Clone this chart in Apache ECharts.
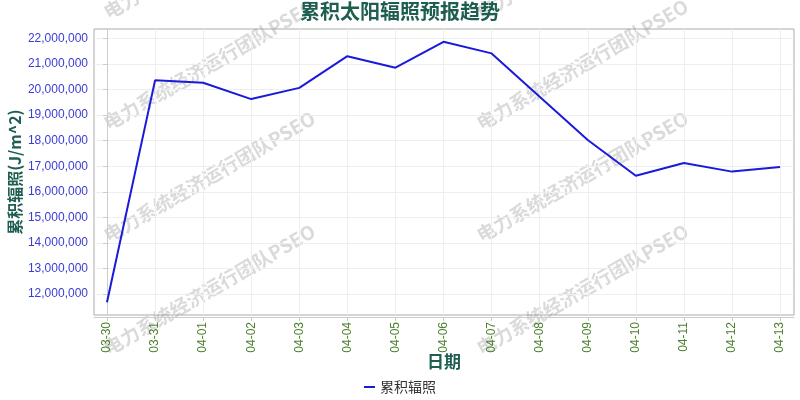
<!DOCTYPE html>
<html><head><meta charset="utf-8">
<script src="https://cdn.jsdelivr.net/npm/echarts@6/dist/echarts.min.js"></script>
<style>html,body{margin:0;padding:0;background:#fff}#c{width:800px;height:400px}</style>
</head><body><div id="c"></div>
<script>
const categories = ['03-30','03-31','04-01','04-02','04-03','04-04','04-05','04-06','04-07','04-08','04-09','04-10','04-11','04-12','04-13'];
const values = [11675000, 20364000, 20270000, 19630000, 20070000, 21310000, 20860000, 21875000, 21420000, 19720000, 18030000, 16630000, 17130000, 16790000, 16970000];
const yTicks = [12000000, 13000000, 14000000, 15000000, 16000000, 17000000, 18000000, 19000000, 20000000, 21000000, 22000000];
const seriesName = '累积辐照';
const titleText = '累积太阳辐照预报趋势';
const watermarkText = '电力系统经济运行团队PSEO';

const cjk = '"Noto Sans CJK SC", sans-serif';
const wmPos = [[110,22],[110,133],[110,245],[110,358],[483,22],[483,133],[483,245],[483,358]];
const graphics = wmPos.map(p => ({
  type: 'text', x: p[0], y: p[1], rotation: Math.PI / 6, z: 0, silent: true,
  style: { text: watermarkText, fill: 'rgba(140,140,140,0.32)', font: 'bold 19px ' + cjk,
           align: 'left', verticalAlign: 'bottom' }
}));
const xIdx = categories.map((c, i) => i);

const chart = echarts.init(document.getElementById('c'));
chart.setOption({
  animation: false,
  backgroundColor: '#fff',
  title: { text: titleText, left: 'center', top: -4,
    textStyle: { fontFamily: cjk, fontSize: 20, fontWeight: 'bold', color: '#1e5e50' } },
  graphic: graphics,
  legend: { bottom: 1, left: 'center', icon: 'rect', itemWidth: 11, itemHeight: 2, itemGap: 4,
    textStyle: { fontFamily: cjk, fontSize: 14, color: '#333' }, data: [seriesName] },
  grid: { left: 94, right: 6, top: 29, bottom: 85, show: true, borderColor: '#aaa', borderWidth: 1,
    containLabel: false, outerBoundsMode: 'none' },
  xAxis: {
    type: 'value', min: -0.27, max: 14.29, offset: 2,
    name: '日期', nameLocation: 'middle', nameGap: 36, nameMoveOverlap: false,
    nameTextStyle: { fontFamily: cjk, fontSize: 17, fontWeight: 'bold', color: '#1e5e50' },
    axisLine: { show: true, lineStyle: { color: '#ccc' } },
    axisTick: { show: true, length: 4, customValues: xIdx, lineStyle: { color: '#ccc' } },
    axisLabel: { customValues: xIdx, rotate: 90, margin: 5, color: '#4f7f2f', fontSize: 12,
      fontFamily: 'Liberation Sans, sans-serif', formatter: v => categories[Math.round(v)] },
    splitLine: { show: true, lineStyle: { color: '#eee' } }
  },
  yAxis: {
    type: 'value', offset: 1,
    min: v => v.min - 500000, max: v => v.max + 500000,
    name: '累积辐照(J/m^2)', nameLocation: 'middle', nameGap: 70, nameRotate: 90, nameMoveOverlap: false,
    nameTextStyle: { fontFamily: cjk, fontSize: 16, fontWeight: 'bold', color: '#1e5e50' },
    axisLine: { show: true, lineStyle: { color: '#ccc' } },
    axisTick: { show: true, length: 4, customValues: yTicks, lineStyle: { color: '#ccc' } },
    axisLabel: { customValues: yTicks, margin: 5, color: '#3b3bd6', fontSize: 12,
      fontFamily: 'Liberation Sans, sans-serif',
      formatter: v => Math.round(v).toString().replace(/\B(?=(\d{3})+(?!\d))/g, ',') },
    splitLine: { show: true, lineStyle: { color: '#eee' } }
  },
  series: [{
    name: seriesName, type: 'line', z: 3,
    data: values.map((v, i) => [i, v]),
    showSymbol: false, symbol: 'none',
    lineStyle: { color: '#1a1ad8', width: 2 }, itemStyle: { color: '#1a1ad8' }
  }]
});
</script></body></html>
